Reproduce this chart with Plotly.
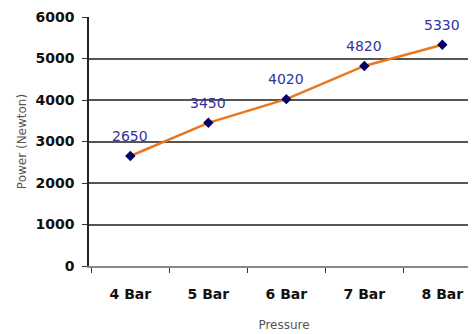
import plotly.graph_objects as go

categories = ["4 Bar", "5 Bar", "6 Bar", "7 Bar", "8 Bar"]
power = [2650, 3450, 4020, 4820, 5330]
y_ticks = [0, 1000, 2000, 3000, 4000, 5000, 6000]

fig = go.Figure()
fig.add_trace(go.Scatter(
    x=categories, y=power,
    mode="lines+markers",
    line=dict(color="#E8771E", width=2.5),
    marker=dict(symbol="diamond", size=8, color="#000066"),
    cliponaxis=False,
    showlegend=False,
))

for c, v in zip(categories, power):
    fig.add_annotation(
        x=c, y=v, text=str(v), showarrow=False, yshift=20,
        font=dict(family="DejaVu Sans", size=14, color="#333399"),
    )

fig.update_layout(
    width=476, height=334,
    margin=dict(l=81, r=5, t=9, b=76, autoexpand=False),
    paper_bgcolor="white", plot_bgcolor="white",
    xaxis=dict(
        type="category",
        range=[-0.53, 4.47],
        automargin=False,
        showgrid=False,
        showline=True, linecolor="#888888", linewidth=2,
        ticks="outside", tickson="boundaries", ticklen=5, tickcolor="#333333", tickwidth=1,
        ticklabelstandoff=14,
        tickfont=dict(family="DejaVu Sans", size=14, color="#111111", weight="bold"),
        title=dict(text="Pressure", font=dict(family="DejaVu Sans", size=12, color="#555555"), standoff=20),
    ),
    yaxis=dict(
        range=[0, 6000],
        automargin=False,
        tickvals=y_ticks,
        showgrid=True, gridcolor="#555555", gridwidth=1.5,
        showline=True, linecolor="#222222", linewidth=1.5,
        zeroline=False,
        ticks="outside", ticklen=5, tickcolor="#333333",
        ticklabelstandoff=5,
        tickfont=dict(family="DejaVu Sans", size=14, color="#111111", weight="bold"),
        title=dict(text="Power (Newton)", font=dict(family="DejaVu Sans", size=12, color="#555555"), standoff=6),
    ),
)

fig.write_html("out.html")
